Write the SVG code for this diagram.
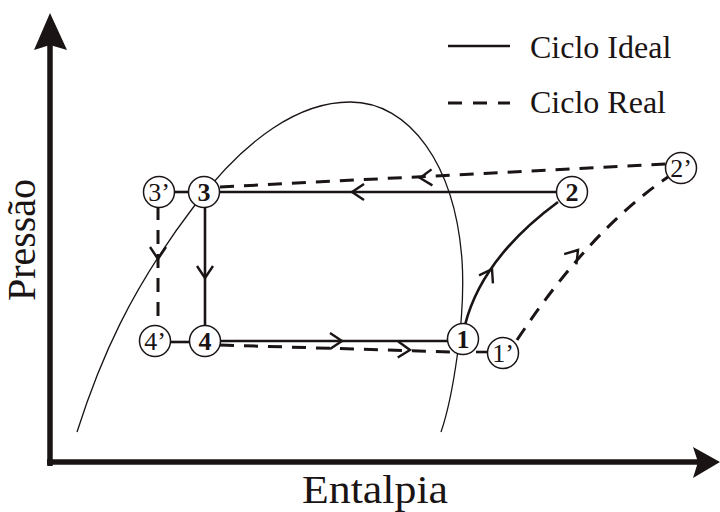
<svg xmlns="http://www.w3.org/2000/svg" width="720" height="512" viewBox="0 0 720 512">
<style>
.ax{stroke:#1a1414;stroke-width:5.5;fill:none}
.axh{fill:#1a1414}
.dome{stroke:#1a1414;stroke-width:1.3;fill:none}
.solid{stroke:#1a1414;stroke-width:2.6;fill:none}
.dash{stroke:#1a1414;stroke-width:3;fill:none;stroke-dasharray:14 10}
.chev{stroke:#1a1414;stroke-width:2.4;fill:none;stroke-linejoin:miter}
.node circle{fill:#fff;stroke:#1a1414;stroke-width:1.5}
.num{font-size:26px;text-anchor:middle}
.b{font-weight:bold}
</style>
<defs>
<path id="chev" class="chev" d="M-12,-8 L0,0 L-12,8"/>
</defs>
<g id="axes">
<line class="ax" x1="50" y1="466" x2="50" y2="44"/>
<polygon class="axh" points="50,13 67,50 50,45 34,50"/>
<line class="ax" x1="47" y1="462" x2="698" y2="462"/>
<polygon class="axh" points="720,462 693,478 698,462 693,447"/>
</g>
<g id="dome">
<path class="dome" d="M77,432 C100,360 130,290 195,205 C247,137 300,102 350,102 C410,102 455,165 462,260 C466,320 452,400 441,432"/>
</g>
<g id="connectors">
<line class="solid" x1="219" y1="192" x2="557" y2="192"/>
<line class="solid" x1="205" y1="206" x2="205" y2="327"/>
<line class="solid" x1="219" y1="341" x2="449" y2="341"/>
<path class="solid" d="M465,325 Q482,258 558,202"/>
<line class="dash" x1="220" y1="187" x2="667" y2="164"/>
<line class="dash" x1="158" y1="206" x2="158" y2="327"/>
<line class="dash" x1="220" y1="345" x2="452" y2="352"/>
<path class="dash" d="M517,340 Q590,230 668,177"/>
<line class="solid" x1="174" y1="192" x2="189" y2="192"/>
<line class="solid" x1="170" y1="342" x2="190" y2="342"/>
<line class="solid" x1="476" y1="352" x2="490" y2="352"/>
<use href="#chev" transform="translate(352,192) rotate(180)"/>
<use href="#chev" transform="translate(420,178) rotate(177)"/>
<use href="#chev" transform="translate(205,278) rotate(90)"/>
<use href="#chev" transform="translate(158,259) rotate(90)"/>
<use href="#chev" transform="translate(342,341)"/>
<use href="#chev" transform="translate(410,350) rotate(2)"/>
<use href="#chev" transform="translate(492,269) rotate(-60)"/>
<use href="#chev" transform="translate(578,250) rotate(-50)"/>
</g>
<g font-family="Liberation Serif, DejaVu Serif, serif" fill="#1a1414">
<g id="n3p" class="node"><circle cx="159" cy="192" r="15.5"/><text class="num" x="159" y="201">3’</text></g>
<g id="n3" class="node"><circle cx="204" cy="192" r="15.5"/><text class="num b" x="204" y="201">3</text></g>
<g id="n4p" class="node"><circle cx="155" cy="341" r="15.5"/><text class="num" x="155" y="350">4’</text></g>
<g id="n4" class="node"><circle cx="205" cy="341" r="15.5"/><text class="num b" x="205" y="350">4</text></g>
<g id="n1" class="node"><circle cx="463" cy="339" r="15.5"/><text class="num b" x="463" y="348">1</text></g>
<g id="n1p" class="node"><circle cx="503" cy="353" r="15.5"/><text class="num" x="503" y="362">1’</text></g>
<g id="n2" class="node"><circle cx="572" cy="192" r="15.5"/><text class="num b" x="572" y="201">2</text></g>
<g id="n2p" class="node"><circle cx="681" cy="168" r="15.5"/><text class="num" x="681" y="177">2’</text></g>
<g id="legend">
<line class="solid" x1="448" y1="46" x2="510" y2="46"/>
<line class="dash" x1="448" y1="103" x2="510" y2="103" style="stroke-dasharray:14 11"/>
<text x="530" y="58" font-size="32">Ciclo Ideal</text>
<text x="530" y="113" font-size="32">Ciclo Real</text>
</g>
<text x="375" y="503" font-size="40" text-anchor="middle" textLength="146" lengthAdjust="spacingAndGlyphs">Entalpia</text>
<text font-size="40" text-anchor="middle" transform="translate(35,240) rotate(-90)">Pressão</text>
</g>
</svg>
